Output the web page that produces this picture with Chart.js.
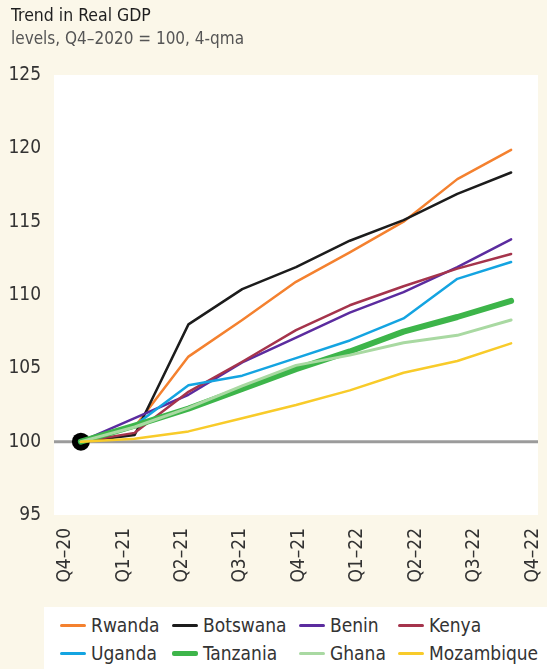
<!DOCTYPE html>
<html>
<head>
<meta charset="utf-8">
<script src="https://cdn.jsdelivr.net/npm/chart.js@4.4.1/dist/chart.umd.min.js"></script>
<style>
  html, body {
    margin: 0;
    padding: 0;
    background: #fbf7e9;
  }
  body {
    width: 547px;
    height: 669px;
    position: relative;
    overflow: hidden;
    font-family: "DejaVu Sans Condensed", "Liberation Sans Narrow", "Roboto", sans-serif;
  }
  #chart {
    position: absolute;
    left: 0;
    top: 0;
  }
  .title {
    position: absolute;
    left: 11px;
    top: 5px;
    font-size: 17.5px;
    color: #1e1e1e;
  }
  .subtitle {
    position: absolute;
    left: 11px;
    top: 28px;
    font-size: 17px;
    color: #555;
  }
  .legend {
    position: absolute;
    left: 44px;
    top: 607px;
    width: 503px;
    height: 62px;
    background: #fff;
    box-sizing: border-box;
    padding: 4px 0 0 16px;
    display: grid;
    grid-template-columns: 112px 127px 99px auto;
    grid-auto-rows: 28px;
  }
  .legend__item {
    display: flex;
    align-items: center;
    font-size: 19px;
    color: #333;
  }
  .legend__line {
    display: inline-block;
    width: 26px;
    height: 3px;
    margin-right: 5px;
  }
</style>
</head>
<body>
<canvas id="chart" width="547" height="606"></canvas>
<div class="title">Trend in Real GDP</div>
<div class="subtitle">levels, Q4–2020 = 100, 4-qma</div>
<div class="legend" id="legend"></div>
<script>
const quarters = ["Q4–20", "Q1–21", "Q2–21", "Q3–21", "Q4–21", "Q1–22", "Q2–22", "Q3–22", "Q4–22"];

const rwanda = [100, 101.0, 105.8, 108.3, 110.9, 112.9, 115.0, 117.9, 119.9];
const botswana = [100, 100.45, 108.0, 110.4, 111.9, 113.7, 115.1, 116.9, 118.35];
const benin = [100, 101.6, 103.2, 105.4, 107.1, 108.8, 110.2, 111.9, 113.8];
const kenya = [100, 100.6, 103.4, 105.45, 107.6, 109.3, 110.6, 111.8, 112.8];
const uganda = [100, 101.1, 103.85, 104.5, 105.7, 106.9, 108.4, 111.1, 112.25];
const tanzania = [100, 101.1, 102.25, 103.6, 104.95, 106.15, 107.5, 108.5, 109.6];
const ghana = [100, 101.0, 102.3, 103.8, 105.2, 105.9, 106.75, 107.25, 108.3];
const mozambique = [100, 100.2, 100.7, 101.6, 102.5, 103.5, 104.7, 105.5, 106.7];

// base period marker (Q4-20 = 100)
const basePoint = [100, null, null, null, null, null, null, null, null];

const yTicks = [95, 100, 105, 110, 115, 120, 125];

const series = [
  { label: "Rwanda", data: rwanda, color: "#f4812f", width: 2.5 },
  { label: "Botswana", data: botswana, color: "#1c1c1c", width: 2.5 },
  { label: "Benin", data: benin, color: "#5b2c9f", width: 2.5 },
  { label: "Kenya", data: kenya, color: "#a5344c", width: 2.5 },
  { label: "Uganda", data: uganda, color: "#14a4e1", width: 2.5 },
  { label: "Tanzania", data: tanzania, color: "#3db54a", width: 6 },
  { label: "Ghana", data: ghana, color: "#a9d9a2", width: 3 },
  { label: "Mozambique", data: mozambique, color: "#f8cb2a", width: 2.5 },
];

const tickFont = { family: "'DejaVu Sans Condensed', 'Liberation Sans Narrow', sans-serif", size: 19 };

// white plot area + grey line at 100
const plotBackground = {
  id: "plotBackground",
  beforeDraw(chart) {
    const { ctx, chartArea } = chart;
    ctx.save();
    ctx.fillStyle = "#ffffff";
    ctx.fillRect(chartArea.left, chartArea.top, chartArea.right - chartArea.left, chartArea.bottom - chartArea.top);
    ctx.restore();
  },
  beforeDatasetsDraw(chart) {
    const { ctx, chartArea } = chart;
    const y = chart.scales.y.getPixelForValue(100);
    ctx.save();
    ctx.strokeStyle = "#9b9b9b";
    ctx.lineWidth = 3;
    ctx.beginPath();
    ctx.moveTo(chartArea.left, y);
    ctx.lineTo(chartArea.right, y);
    ctx.stroke();
    ctx.restore();
  },
};

const datasets = series.map((s, i) => ({
  label: s.label,
  data: s.data,
  borderColor: s.color,
  backgroundColor: s.color,
  borderWidth: s.width,
  borderCapStyle: "round",
  borderJoinStyle: "round",
  pointRadius: 0,
  tension: 0,
  order: series.length - i,
}));

datasets.push({
  label: "base",
  data: basePoint,
  showLine: false,
  pointRadius: 9,
  pointBackgroundColor: "#000",
  pointBorderWidth: 0,
  order: 100,
});

new Chart(document.getElementById("chart"), {
  type: "line",
  data: { labels: quarters, datasets },
  plugins: [plotBackground],
  options: {
    responsive: false,
    animation: false,
    layout: { padding: { top: 75, left: 0, right: 0, bottom: 0 } },
    plugins: {
      legend: { display: false },
      tooltip: { enabled: false },
    },
    scales: {
      x: {
        type: "category",
        display: false,
        offset: true,
      },
      // separate axis only for the quarter labels, they sit a bit wider than the data
      x2: {
        type: "linear",
        position: "bottom",
        min: -0.193,
        max: 8.092,
        grid: { display: false, drawTicks: false },
        border: { display: false },
        ticks: {
          stepSize: 1,
          includeBounds: false,
          autoSkip: false,
          maxTicksLimit: 20,
          minRotation: 90,
          maxRotation: 90,
          padding: 13,
          color: "#333",
          font: tickFont,
          callback: (v) => quarters[v] ?? "",
        },
        afterFit: (scale) => {
          scale.height = 91;
          scale.paddingLeft = 0;
          scale.paddingRight = 0;
        },
      },
      y: {
        min: yTicks[0],
        max: yTicks[yTicks.length - 1],
        grid: { display: false, drawTicks: false },
        border: { display: false },
        afterBuildTicks: (scale) => {
          scale.ticks = yTicks.map((v) => ({ value: v }));
        },
        ticks: {
          padding: 13,
          color: "#333",
          font: tickFont,
        },
        afterFit: (scale) => {
          scale.width = 54;
        },
      },
    },
  },
});

// legend laid out as a fixed 4-column grid like the original
const legend = document.getElementById("legend");
series.forEach((s) => {
  const item = document.createElement("div");
  item.classList.add("legend__item");
  item.innerHTML = `<span class="legend__line" style="background:${s.color};height:${s.width > 4 ? 5 : 3}px;border-radius:2px"></span>${s.label}`;
  legend.appendChild(item);
});
</script>
</body>
</html>
